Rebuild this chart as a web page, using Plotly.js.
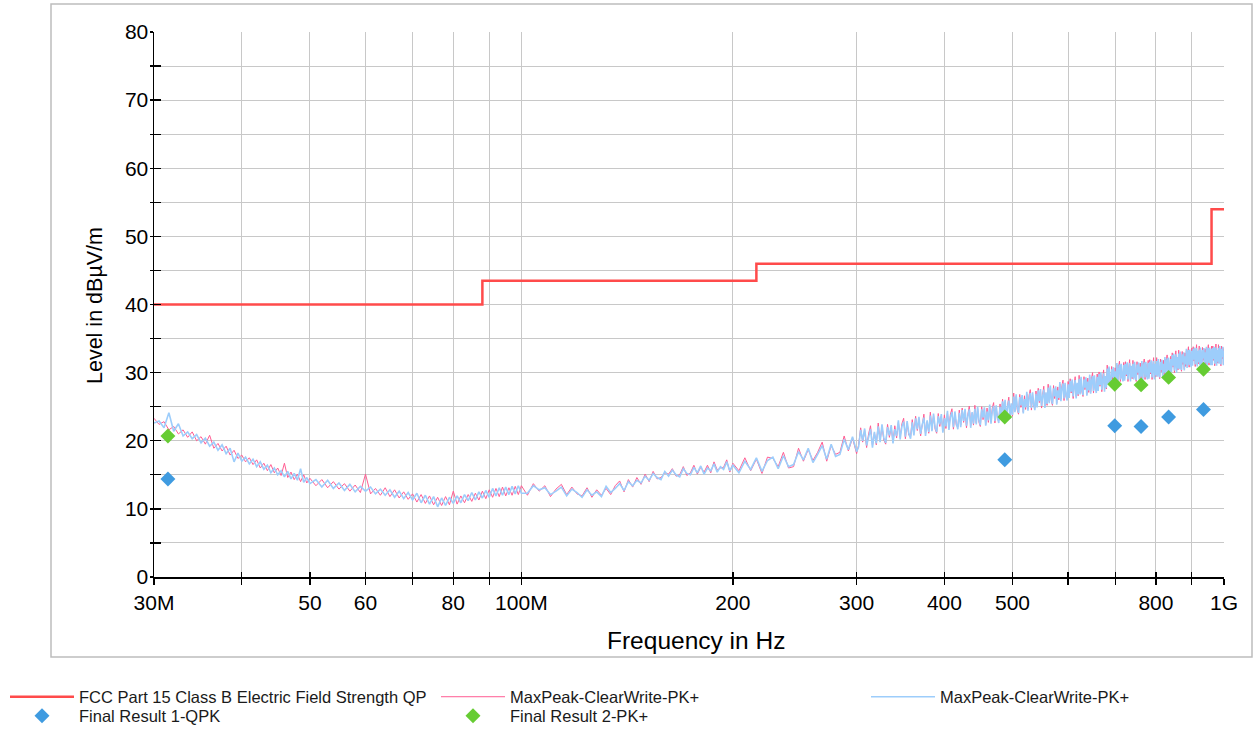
<!DOCTYPE html>
<html>
<head>
<meta charset="utf-8">
<script src="https://cdn.plot.ly/plotly-3.0.1.min.js"></script>
<style>html,body{margin:0;padding:0;background:#fff;}#chart{width:1257px;height:729px;}</style>
</head>
<body>
<div id="chart"></div>
<script>
// ---- Data (frequency in MHz, level in dBµV/m) ----
const limitFreq = [30, 88, 216, 960, 1000];
const limitLevel = [40, 43.5, 46, 54, 54];

const freqMHz = [
30,30.5,31,31.5,32,32.5,33,33.5,34,34.5,35,35.5,36,36.5,37,37.5,38,38.5,39,39.5,
40,40.5,41,41.5,42,42.5,43,43.5,44,44.5,45,45.5,46,46.5,47,47.5,48,48.5,49,49.5,50,
51,52,53,54,55,56,57,58,59,60,61,62,63,64,65,66,67,68,69,70,
71,72,73,74,75,76,77,78,79,80,81,82,83,84,85,86,87,88,89,90,
91,92,93,94,95,96,97,98,99,100,
102,104,106,108,110,112,114,116,118,120,122,124,
126,128,130,132,134,136,138,140,142,144,146,148,150,
152,154,156,158,160,162,164,166,168,170,172,174,176,178,180,182,184,186,188,190,192,194,196,198,200,
204,208,212,216,220,224,228,232,236,240,
244,248,252,256,260,264,268,272,276,280,
284,288,292,296,300,
302,304,306,308,310,312,314,316,318,320,
322,324,326,328,330,332,334,336,338,340,
342,344,346,348,350,352,354,356,358,360,
362,364,366,368,370,372,374,376,378,380,
382,384,386,388,390,392,394,396,398,400,
402,404,406,408,410,412,414,416,418,420,
422,424,426,428,430,432,434,436,438,440,
442,444,446,448,450,452,454,456,458,460,
462,464,466,468,470,472,474,476,478,480,
482,484,486,488,490,492,494,496,498,500,
502,504,506,508,510,512,514,516,518,520,
522,524,526,528,530,532,534,536,538,540,
542,544,546,548,550,552,554,556,558,560,
562,564,566,568,570,572,574,576,578,580,
582,584,586,588,590,592,594,596,598,600,
602,604,606,608,610,612,614,616,618,620,
622,624,626,628,630,632,634,636,638,640,
642,644,646,648,650,652,654,656,658,660,
662,664,666,668,670,672,674,676,678,680,
682,684,686,688,690,692,694,696,698,700,
702,704,706,708,710,712,714,716,718,720,
722,724,726,728,730,732,734,736,738,740,
742,744,746,748,750,752,754,756,758,760,
762,764,766,768,770,772,774,776,778,780,
782,784,786,788,790,792,794,796,798,800,
802,804,806,808,810,812,814,816,818,820,
822,824,826,828,830,832,834,836,838,840,
842,844,846,848,850,852,854,856,858,860,
862,864,866,868,870,872,874,876,878,880,
882,884,886,888,890,892,894,896,898,900,
902,904,906,908,910,912,914,916,918,920,
922,924,926,928,930,932,934,936,938,940,
942,944,946,948,950,952,954,956,958,960,
962,964,966,968,970,972,974,976,978,980,
982,984,986,988,990,992,994,996,998,1000
];

const pinkLevel = [
23.3,22.4,22.8,21.6,22.1,21.0,21.6,20.5,21.3,20.0,20.6,19.5,20.8,18.9,19.6,18.5,19.2,17.9,18.6,17.4,
17.9,16.9,17.5,16.5,17.2,16.0,16.7,15.6,16.5,15.3,16.0,14.9,16.7,14.6,15.4,14.3,15.1,14.0,15.0,13.8,14.5,
13.4,14.3,13.1,14.0,12.9,13.7,12.6,13.5,12.4,15.1,12.2,13.0,12.0,13.1,11.8,12.8,11.6,12.5,11.4,12.2,
11.0,12.1,10.8,11.9,10.6,11.7,10.5,11.8,10.6,12.6,10.7,11.9,10.9,12.1,11.1,12.3,11.3,12.6,11.5,12.8,
11.7,13.0,11.8,13.2,11.9,13.1,12.0,13.3,12.1,13.4,
12.0,13.7,12.6,13.4,11.8,12.9,13.6,12.1,13.2,12.2,11.9,13.1,
11.7,12.8,12.0,13.0,12.1,13.4,14.1,12.5,14.3,13.2,14.6,13.6,15.1,
14.0,15.5,14.4,14.6,15.3,15.1,15.9,14.8,15.0,16.2,14.9,15.3,16.4,15.1,16.1,15.4,16.4,15.3,16.9,15.7,16.0,16.1,17.2,15.4,16.7,
15.6,17.5,15.6,17.3,15.2,17.6,17.4,16.2,18.3,16.0,
16.2,18.9,17.0,18.7,17.1,18.3,19.8,17.0,19.3,18.0,
18.3,20.7,18.5,20.4,18.1,
19.4,21.9,19.8,21.5,19.0,21.0,22.2,19.3,21.1,19.4,
22.6,20.0,22.1,20.1,19.5,22.4,20.5,22.0,19.8,22.2,
20.4,22.7,20.5,22.5,23.3,20.3,22.6,20.8,20.6,23.1,
21.1,23.6,21.5,23.2,20.7,22.7,23.9,21.0,22.8,21.1,
24.2,21.6,23.7,21.7,21.1,24.0,22.1,23.6,21.4,23.8,
21.8,24.1,21.9,23.9,24.7,21.7,24.0,22.2,22.0,24.5,
22.3,24.8,22.7,24.4,21.9,23.9,25.1,22.2,24.0,22.3,
25.2,22.6,24.7,22.7,22.1,25.0,23.1,24.6,22.4,24.8,
22.7,25.0,22.8,24.8,25.6,22.6,24.9,23.1,22.9,25.4,
23.6,26.1,24.0,25.7,23.2,25.2,26.4,23.5,25.3,23.6,
27.0,24.4,26.5,24.5,23.9,26.8,24.9,26.4,24.2,26.6,
24.6,26.9,24.7,26.7,27.5,24.5,26.8,25.0,24.8,27.3,
25.2,27.7,25.6,27.3,24.8,26.8,28.0,25.1,26.9,25.2,
28.3,25.7,27.8,25.8,25.2,28.1,26.2,27.7,25.5,27.9,
26.0,28.3,26.1,28.1,28.9,25.9,28.2,26.4,26.2,28.7,
26.6,29.1,27.0,28.7,26.2,28.2,29.4,26.5,28.3,26.6,
29.6,27.0,29.1,27.1,26.5,29.4,27.5,29.0,26.8,29.2,
27.1,29.4,27.2,29.2,30.0,27.0,29.3,27.5,27.3,29.8,
27.6,30.1,28.0,29.7,27.2,29.2,30.4,27.5,29.3,27.6,
31.1,28.5,30.6,28.6,28.0,30.9,29.0,30.5,28.3,30.7,
28.8,31.1,28.9,30.9,31.7,28.7,31.0,29.2,29.0,31.5,
29.1,31.6,29.5,31.2,28.7,30.7,31.9,29.0,30.8,29.1,
31.8,29.2,31.3,29.3,28.7,31.6,29.7,31.2,29.0,31.4,
29.1,31.4,29.2,31.2,32.0,29.0,31.3,29.5,29.3,31.8,
29.4,31.9,29.8,31.5,29.0,31.0,32.2,29.3,31.1,29.4,
32.2,29.6,31.7,29.7,29.1,32.0,30.1,31.6,29.4,31.8,
29.7,32.0,29.8,31.8,32.6,29.6,31.9,30.1,29.9,32.4,
30.4,32.9,30.8,32.5,30.0,32.0,33.2,30.3,32.1,30.4,
33.3,30.7,32.8,30.8,30.2,33.1,31.2,32.7,30.5,32.9,
30.9,33.2,31.0,33.0,33.8,30.8,33.1,31.3,31.1,33.6,
31.3,33.8,31.7,33.4,30.9,32.9,34.1,31.2,33.0,31.3,
33.9,31.3,33.4,31.4,30.8,33.7,31.8,33.3,31.1,33.5,
31.2,33.5,31.3,33.3,34.1,31.1,33.4,31.6,31.4,33.9,
31.4,33.9,31.8,33.5,31.0,33.0,34.2,31.3,33.1,31.4,
34.1,31.5,33.6,31.6,31.0,33.9,32.0,33.5,31.3,33.7
];

const blueLevel = [
22.6,22.9,21.9,24.1,21.4,22.5,20.7,21.3,20.3,20.9,19.7,20.4,19.2,19.8,18.6,19.4,18.1,18.9,16.9,18.2,
17.0,17.6,16.6,17.3,16.2,16.9,15.8,16.4,15.3,16.0,15.0,15.6,14.7,15.5,14.4,15.2,14.2,15.9,13.9,14.6,13.7,
14.3,13.2,14.2,13.0,13.8,12.7,13.6,12.5,13.3,12.6,13.2,12.2,12.9,12.0,12.8,11.7,12.6,11.5,12.4,11.3,
12.3,10.9,12.0,10.7,11.8,10.3,11.6,10.5,11.7,10.8,11.9,10.9,12.1,11.2,12.4,11.3,12.5,11.6,12.7,11.7,
13.0,11.9,13.1,12.0,13.2,12.1,13.3,12.2,13.4,12.3,
12.3,13.4,12.8,13.1,12.1,12.6,13.2,11.9,12.9,12.4,11.7,12.8,
12.0,12.5,11.8,13.3,12.4,13.0,13.7,12.7,14.0,13.4,14.2,13.8,14.8,
14.2,15.2,14.6,14.3,15.5,14.8,15.7,15.0,14.7,15.9,15.2,15.0,16.1,15.3,16.3,15.1,16.0,15.6,16.6,15.4,16.2,15.8,16.9,15.6,16.4,
15.3,17.0,15.8,17.5,15.5,17.1,17.6,15.9,17.8,16.2,
16.5,18.4,17.2,18.9,16.8,18.0,19.3,17.3,19.5,17.7,
18.0,20.2,18.7,20.6,18.4,
19.1,21.6,20.0,21.8,19.3,20.7,21.7,19.0,21.3,19.6,
22.1,19.8,22.4,20.4,19.7,22.0,20.8,22.3,19.6,21.7,
20.7,23.0,20.2,22.1,22.8,20.6,22.9,21.1,20.3,22.7,
20.8,23.3,21.7,23.5,21.0,22.4,23.4,20.7,23.0,21.3,
23.7,21.4,24.0,22.0,21.3,23.6,22.4,23.9,21.2,23.3,
22.1,24.4,21.6,23.5,24.2,22.0,24.3,22.5,21.7,24.1,
22.0,24.5,22.9,24.7,22.2,23.6,24.6,21.9,24.2,22.5,
24.7,22.4,25.0,23.0,22.3,24.6,23.4,24.9,22.2,24.3,
23.0,25.3,22.5,24.4,25.1,22.9,25.2,23.4,22.6,25.0,
23.3,25.8,24.2,26.0,23.5,24.9,25.9,23.2,25.5,23.8,
26.5,24.2,26.8,24.8,24.1,26.4,25.2,26.7,24.0,26.1,
24.9,27.2,24.4,26.3,27.0,24.8,27.1,25.3,24.5,26.9,
24.9,27.4,25.8,27.6,25.1,26.5,27.5,24.8,27.1,25.4,
27.8,25.5,28.1,26.1,25.4,27.7,26.5,28.0,25.3,27.4,
26.3,28.6,25.8,27.7,28.4,26.2,28.5,26.7,25.9,28.3,
26.3,28.8,27.2,29.0,26.5,27.9,28.9,26.2,28.5,26.8,
29.1,26.8,29.4,27.4,26.7,29.0,27.8,29.3,26.6,28.7,
27.4,29.7,26.9,28.8,29.5,27.3,29.6,27.8,27.0,29.4,
27.3,29.8,28.2,30.0,27.5,28.9,29.9,27.2,29.5,27.8,
30.6,28.3,30.9,28.9,28.2,30.5,29.3,30.8,28.1,30.2,
29.1,31.4,28.6,30.5,31.2,29.0,31.3,29.5,28.7,31.1,
28.8,31.3,29.7,31.5,29.0,30.4,31.4,28.7,31.0,29.3,
31.3,29.0,31.6,29.6,28.9,31.2,30.0,31.5,28.8,30.9,
29.4,31.7,28.9,30.8,31.5,29.3,31.6,29.8,29.0,31.4,
29.1,31.6,30.0,31.8,29.3,30.7,31.7,29.0,31.3,29.6,
31.7,29.4,32.0,30.0,29.3,31.6,30.4,31.9,29.2,31.3,
30.0,32.3,29.5,31.4,32.1,29.9,32.2,30.4,29.6,32.0,
30.1,32.6,31.0,32.8,30.3,31.7,32.7,30.0,32.3,30.6,
32.8,30.5,33.1,31.1,30.4,32.7,31.5,33.0,30.3,32.4,
31.2,33.5,30.7,32.6,33.3,31.1,33.4,31.6,30.8,33.2,
31.0,33.5,31.9,33.7,31.2,32.6,33.6,30.9,33.2,31.5,
33.4,31.1,33.7,31.7,31.0,33.3,32.1,33.6,30.9,33.0,
31.5,33.8,31.0,32.9,33.6,31.4,33.7,31.9,31.1,33.5,
31.1,33.6,32.0,33.8,31.3,32.7,33.7,31.0,33.3,31.6,
33.6,31.3,33.9,31.9,31.2,33.5,32.3,33.8,31.1,33.2
];

const resultFreq = [31.4, 487.5, 699, 762, 834, 935];
const qpkLevel = [14.4, 17.2, 22.2, 22.1, 23.5, 24.6];
const pkLevel = [20.7, 23.5, 28.3, 28.2, 29.3, 30.5];

const xTickVals = [30,40,50,60,70,80,90,100,200,300,400,500,600,700,800,900,1000];
const xTickText = ['30M','','50','60','','80','','100M','200','300','400','500','','','800','','1G'];
const yTickVals = [0,5,10,15,20,25,30,35,40,45,50,55,60,65,70,75,80];
const yTickText = ['0','','10','','20','','30','','40','','50','','60','','70','','80'];

// ---- Chart ----
const FONT = 'Liberation Sans, Arial, sans-serif';
const traces = [
  {x: freqMHz, y: pinkLevel, type: 'scatter', mode: 'lines', line: {color: '#ff5c92', width: 1},
   name: 'MaxPeak-ClearWrite-PK+', legend: 'legend2'},
  {x: freqMHz, y: blueLevel, type: 'scatter', mode: 'lines', line: {color: '#9dcdfb', width: 1.6},
   name: 'MaxPeak-ClearWrite-PK+', legend: 'legend3'},
  {x: resultFreq, y: qpkLevel, type: 'scatter', mode: 'markers', marker: {symbol: 'diamond', size: 11.5, color: '#3f9be0'},
   name: 'Final Result 1-QPK', legend: 'legend4'},
  {x: resultFreq, y: pkLevel, type: 'scatter', mode: 'markers', marker: {symbol: 'diamond', size: 11.5, color: '#66cc33'},
   name: 'Final Result 2-PK+', legend: 'legend5'},
  {x: limitFreq, y: limitLevel, type: 'scatter', mode: 'lines', line: {shape: 'hv', color: '#ff4b4b', width: 2.5},
   name: 'FCC Part 15 Class B Electric Field Strength QP', legend: 'legend', xaxis: 'x2', yaxis: 'y2'}
];

function leg(x, y) {
  return {xref: 'container', yref: 'container', x: x, y: y, xanchor: 'left', yanchor: 'middle',
    bgcolor: 'rgba(0,0,0,0)', borderwidth: 0, itemwidth: 64, orientation: 'v',
    font: {family: FONT, size: 16.5, color: '#1a1a1a'}};
}

const layout = {
  width: 1257, height: 729,
  showlegend: true,
  margin: {l: 154, r: 33, t: 32, b: 152, autoexpand: false},
  paper_bgcolor: '#ffffff', plot_bgcolor: '#ffffff',
  font: {family: FONT, color: '#000'},
  xaxis: {
    type: 'log', range: [Math.log10(30), Math.log10(1000)],
    tickmode: 'array', tickvals: xTickVals, ticktext: xTickText, tickangle: 0,
    ticks: 'outside', ticklen: 6, tickwidth: 1.3, tickcolor: '#000',
    showline: true, linecolor: '#000', linewidth: 1.5,
    showgrid: true, gridcolor: '#c8c8c8', gridwidth: 1,
    zeroline: false, automargin: false, tickfont: {family: FONT, size: 21, color: '#000'}
  },
  yaxis: {
    range: [0, 80],
    tickmode: 'array', tickvals: yTickVals, ticktext: yTickText,
    ticks: 'outside', ticklen: 3, tickwidth: 1.3, tickcolor: '#000', ticklabelstandoff: -3,
    showline: true, linecolor: '#000', linewidth: 1.5,
    showgrid: true, gridcolor: '#c8c8c8', gridwidth: 1,
    zeroline: false, automargin: false, tickfont: {family: FONT, size: 21, color: '#000'}
  },
  xaxis2: {
    type: 'log', range: [Math.log10(30), Math.log10(1000)], overlaying: 'x', anchor: 'y2', side: 'bottom',
    tickmode: 'array', tickvals: xTickVals, showticklabels: false, automargin: false,
    ticks: 'inside', ticklen: 5, tickwidth: 1.3, tickcolor: '#000',
    showgrid: false, zeroline: false, showline: false
  },
  yaxis2: {
    range: [0, 80], overlaying: 'y', anchor: 'x2', side: 'left',
    tickmode: 'array', tickvals: yTickVals, showticklabels: false, automargin: false,
    ticks: 'inside', ticklen: 7, tickwidth: 1.3, tickcolor: '#000',
    showgrid: false, zeroline: false, showline: false
  },
  annotations: [
    {text: 'Frequency in Hz', xref: 'paper', yref: 'paper', x: (696 - 154) / 1070, y: -(640 - 577) / 545,
     xanchor: 'center', yanchor: 'middle', showarrow: false, font: {family: FONT, size: 24.5, color: '#000'}},
    {text: 'Level in dBµV/m', xref: 'paper', yref: 'paper', x: (95 - 154) / 1070, y: (577 - 306) / 545,
     xanchor: 'center', yanchor: 'middle', textangle: -90, showarrow: false, font: {family: FONT, size: 21.5, color: '#000'}}
  ],
  legend: leg(5 / 1257, 32 / 729),
  legend2: leg(436 / 1257, 32 / 729),
  legend3: leg(866 / 1257, 32 / 729),
  legend4: leg(5 / 1257, 13 / 729),
  legend5: leg(436 / 1257, 13 / 729),
  shapes: [{
    type: 'rect', xref: 'paper', yref: 'paper',
    x0: (51 - 154) / 1070, x1: (1252 - 154) / 1070,
    y0: -(657 - 577) / 545, y1: (577 - 4) / 545,
    line: {color: '#bdbdbd', width: 1.5}, fillcolor: 'rgba(0,0,0,0)', layer: 'below'
  }]
};

Plotly.newPlot('chart', traces, layout, {displayModeBar: false, staticPlot: true});
</script>
</body>
</html>
